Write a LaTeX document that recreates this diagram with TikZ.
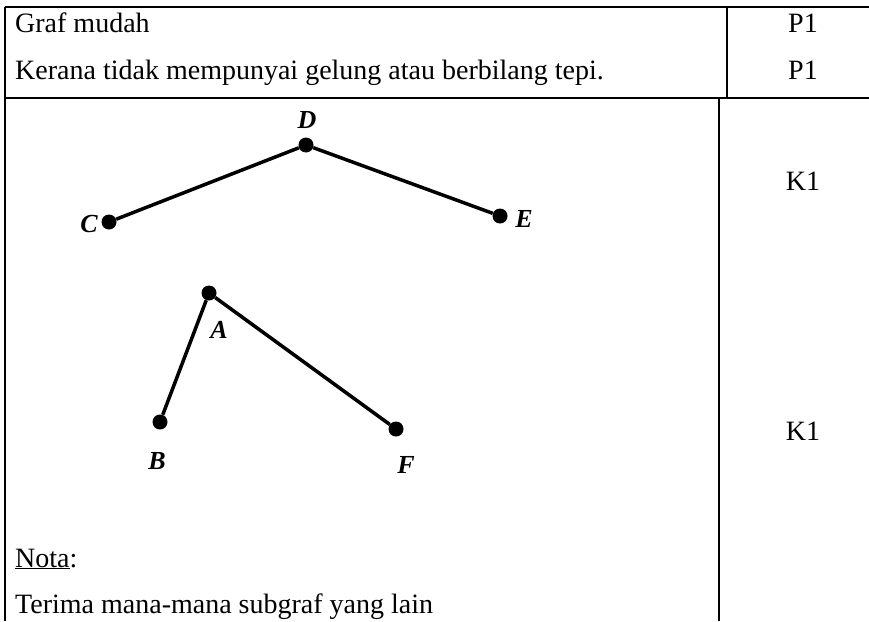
\documentclass[tikz,border=0pt]{standalone}
\usepackage{fontspec}
\setmainfont{Liberation Serif}
\begin{document}
\begin{tikzpicture}[x=1pt,y=-1pt,
  rule/.style={line width=2.5pt},
  edge/.style={line width=3.5pt},
  vtx/.style={circle,fill=black,inner sep=0pt,minimum size=15pt},
  vlabel/.style={font=\fontsize{26}{30}\selectfont\bfseries\itshape,inner sep=0pt},
  txt/.style={font=\fontsize{28}{33}\selectfont,inner sep=0pt},
]
\useasboundingbox (0,0) rectangle (869,621);

% table rules
\coordinate (tl) at (5,7);
\coordinate (tr) at (869,7);
\coordinate (ml) at (5,98);
\coordinate (mr) at (869,98);
\coordinate (bl) at (5,621);
\coordinate (ut) at (727,7);
\coordinate (ub) at (727,98);
\coordinate (lt) at (719,98);
\coordinate (lb) at (719,621);
\draw[rule] (tl) -- (tr);
\draw[rule] (ml) -- (mr);
\draw[rule] (tl) -- (bl);
\draw[rule] (ut) -- (ub);
\draw[rule] (lt) -- (lb);

% header rows
\node[txt,anchor=base west] (t1) at (15,32) {Graf mudah};
\node[txt,anchor=base west] (t2) at (15,79) {Kerana tidak mempunyai gelung atau berbilang tepi.};
\node[txt,anchor=base] (p1) at (803,32) {P1};
\node[txt,anchor=base] (p2) at (803,79) {P1};

% marks
\node[txt,anchor=base] (k1) at (803,190) {K1};
\node[txt,anchor=base] (k2) at (803,440) {K1};

% first subgraph
\node[vtx] (D) at (306,145) {};
\node[vtx] (C) at (109,222) {};
\node[vtx] (E) at (500,216) {};
\draw[edge] (C) -- (D) -- (E);
\node[vlabel] (lD) at (307,120) {D};
\node[vlabel] (lC) at (89,224) {C};
\node[vlabel] (lE) at (524,219) {E};

% second subgraph
\node[vtx] (A) at (209,293) {};
\node[vtx] (B) at (160,422) {};
\node[vtx] (F) at (396,429) {};
\draw[edge] (B) -- (A) -- (F);
\node[vlabel] (lA) at (219,330) {A};
\node[vlabel] (lB) at (157,461) {B};
\node[vlabel] (lF) at (406,465) {F};

% note
\node[txt,anchor=base west] (n1) at (15,567) {\underline{Nota}:};
\node[txt,anchor=base west] (n2) at (15,613) {Terima mana-mana subgraf yang lain};
\end{tikzpicture}
\end{document}
